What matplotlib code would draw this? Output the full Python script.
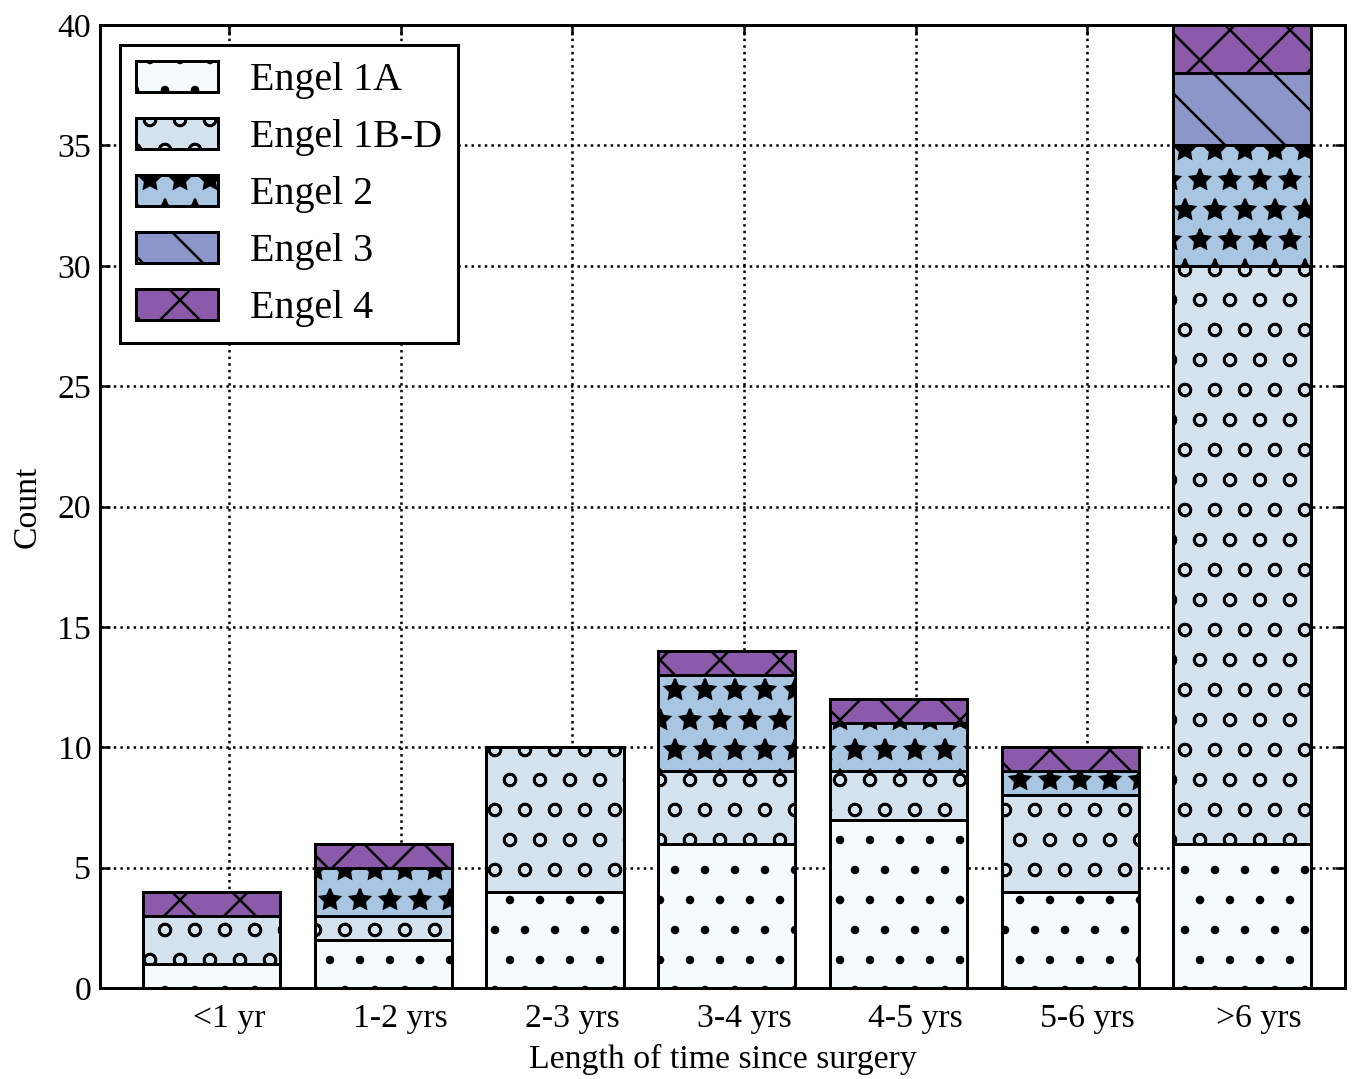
import numpy as np
import matplotlib.pyplot as plt

plt.rcParams['font.family'] = ['Liberation Serif', 'DejaVu Serif']
plt.rcParams['hatch.linewidth'] = 1.0
plt.rcParams['hatch.color'] = 'black'

categories = ["<1 yr", "1-2 yrs", "2-3 yrs", "3-4 yrs", "4-5 yrs", "5-6 yrs", ">6 yrs"]
engel_1a = [1, 2, 4, 6, 7, 4, 6]
engel_1bd = [2, 1, 6, 3, 2, 4, 24]
engel_2 = [0, 2, 0, 4, 2, 1, 5]
engel_3 = [0, 0, 0, 0, 0, 0, 3]
engel_4 = [1, 1, 0, 1, 1, 1, 2]

series = [engel_1a, engel_1bd, engel_2, engel_3, engel_4]
names = ["Engel 1A", "Engel 1B-D", "Engel 2", "Engel 3", "Engel 4"]
colors = ["#f5fafc", "#d5e3ef", "#a8c5e1", "#8c96c8", "#8c5aaa"]
hatches = [".", "o", "*", "\\", "x"]

dpi = 180
fig = plt.figure(figsize=(1355 / dpi, 1079 / dpi), dpi=dpi)
ax = fig.add_axes([0.0738, 0.0843, 0.9926 - 0.0738, 0.9768 - 0.0843])

x = np.arange(len(categories))
bottom = np.zeros(len(categories))
for vals, name, c, h in zip(series, names, colors, hatches):
    vals = np.array(vals, dtype=float)
    ax.bar(x - 0.5, vals, width=0.8, bottom=bottom, align="edge",
           color=c, edgecolor="black", linewidth=1.2, hatch=h, label=name,
           zorder=2)
    bottom += vals

ax.set_xlim(-0.75, 6.5)
ax.set_ylim(0, 40)
ax.set_yticks(range(0, 41, 5))
ax.set_xticks(x)
ax.set_xticklabels(categories)
ax.tick_params(labelsize=13.5, direction="in", length=4, width=1,
               top=True, right=True)
ax.tick_params(axis="x", pad=6)
ax.tick_params(axis="y", pad=3.5)
ax.grid(True, linestyle=":", color="black", linewidth=1, zorder=1)
ax.set_axisbelow(True)
for s in ax.spines.values():
    s.set_linewidth(1.2)

ax.set_xlabel("Length of time since surgery", fontsize=13.5, labelpad=4)
ax.set_ylabel("Count", fontsize=13.5, labelpad=6)

leg = ax.legend(loc="upper left", fontsize=16, fancybox=False,
                edgecolor="black", framealpha=1, handlelength=2.05,
                handleheight=0.8, labelspacing=0.47, borderpad=0.4,
                borderaxespad=0.5)
leg.get_frame().set_linewidth(1.2)

fig.savefig("out.png", dpi=dpi)
